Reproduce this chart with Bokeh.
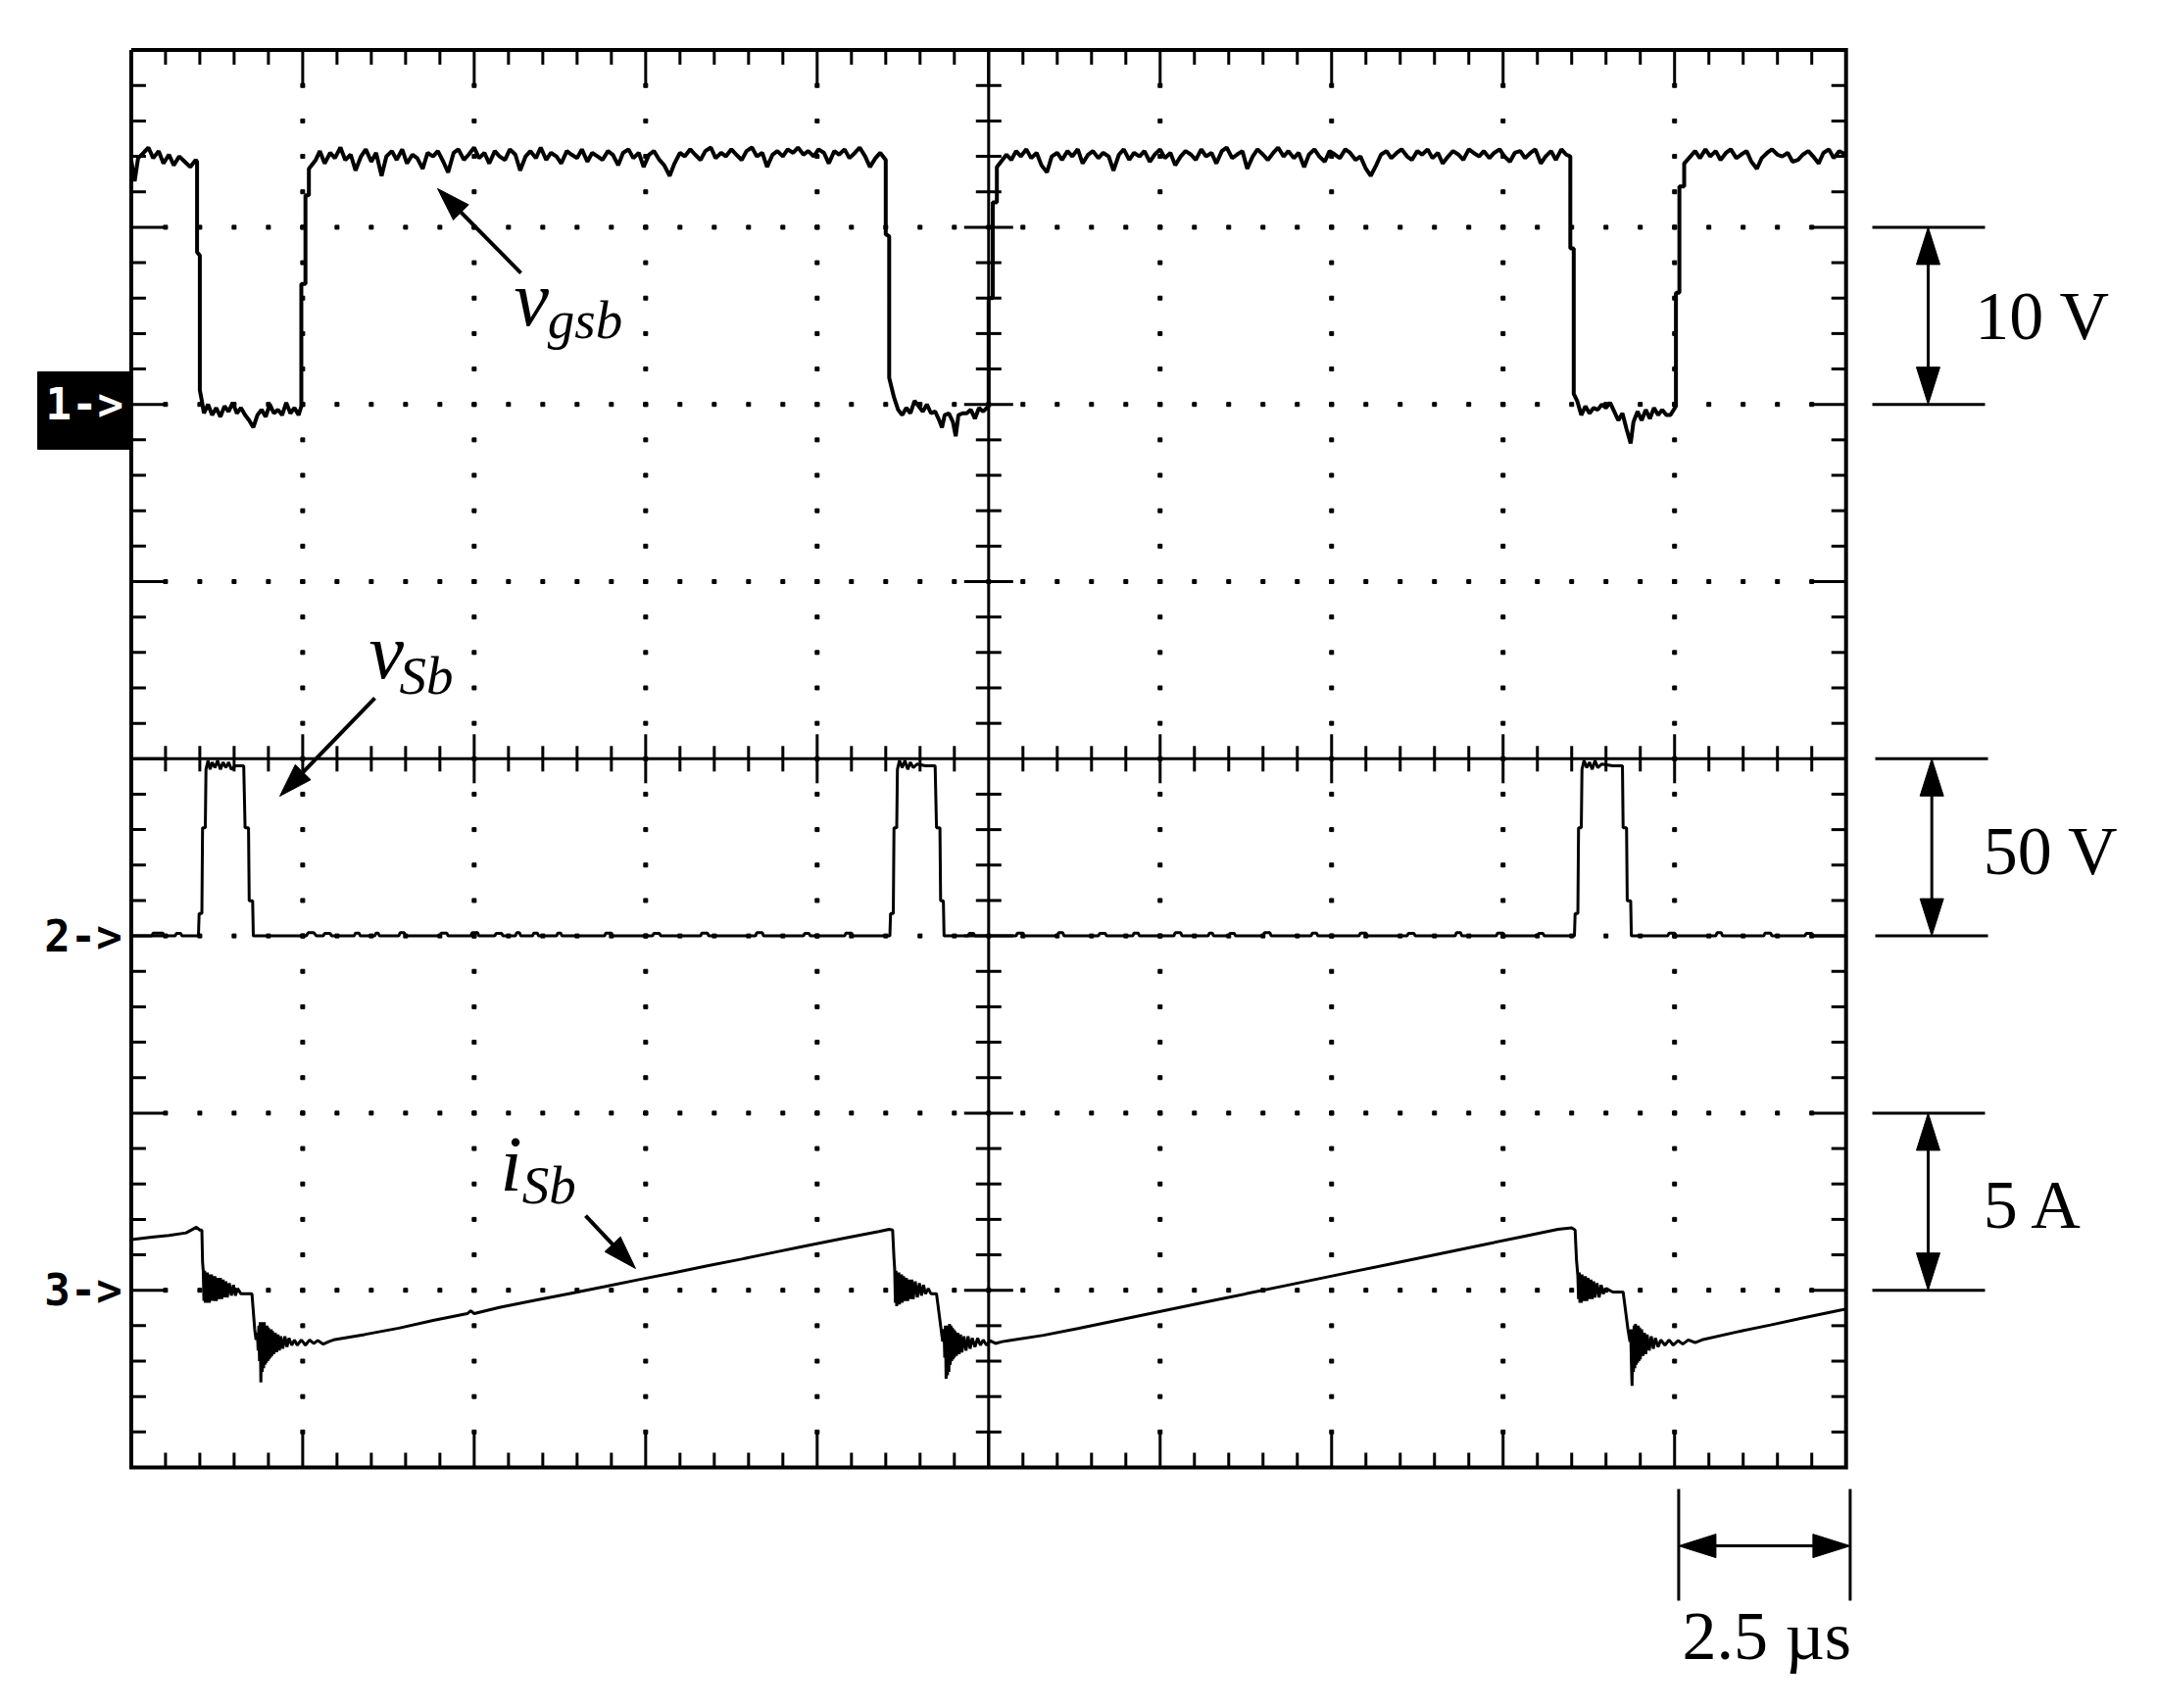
import math
import numpy as np
from bokeh.plotting import figure
from bokeh.core.properties import value
from bokeh.embed import file_html
from bokeh.resources import INLINE

# ---------------- scope settings ----------------
US_PER_DIV = 2.5          # time base, µs/div
N_XDIV, N_YDIV, N_SUB = 10, 8, 5
CH1_REF, CH1_VPD = 2.0, 10.0    # v_gsb : marker 1->, 10 V/div
CH2_REF, CH2_VPD = -1.0, 50.0   # v_Sb  : marker 2->, 50 V/div
CH3_REF, CH3_APD = -3.0, 5.0    # i_Sb  : marker 3->, 5 A/div

# ---------------- channel 1 : v_gsb (µs, V) ----------------
VGSB = [
    (0.00, 13.8), (0.05, 12.6), (0.10, 13.9), (0.18, 14.2), (0.25, 14.5), (0.32, 13.9), (0.40, 14.3),
    (0.47, 13.6), (0.55, 14.1), (0.62, 13.5), (0.70, 14.0), (0.78, 13.7), (0.86, 13.4), (0.94, 13.8),
    (0.96, 13.7), (0.96, 8.6), (1.00, 8.4), (1.00, 0.8), (1.03, 0.2),
    (1.06, -0.5), (1.12, 0.0), (1.18, -0.6), (1.24, -0.2), (1.30, -0.7), (1.36, -0.1), (1.42, -0.4),
    (1.48, 0.1), (1.54, -0.5), (1.60, -0.2), (1.66, -0.6), (1.72, -0.9), (1.78, -1.3), (1.84, -0.6),
    (1.90, -0.3), (1.96, -0.7), (2.02, 0.0), (2.08, -0.5), (2.14, -0.3), (2.20, -0.6), (2.26, 0.1),
    (2.32, -0.5), (2.38, -0.2), (2.44, -0.6), (2.48, -0.1),
    (2.48, 6.8), (2.54, 6.8), (2.54, 11.8), (2.59, 11.8), (2.59, 13.3), (2.69, 13.8),
    (2.75, 14.3), (2.82, 13.6), (2.90, 14.2), (2.97, 13.9), (3.05, 14.5), (3.12, 13.8), (3.20, 14.1),
    (3.27, 13.2), (3.35, 14.0), (3.42, 14.4), (3.50, 13.7), (3.57, 14.2), (3.65, 12.9), (3.72, 14.0),
    (3.80, 14.3), (3.87, 13.8), (3.95, 14.4), (4.02, 13.6), (4.10, 14.1), (4.17, 13.9), (4.25, 13.3),
    (4.32, 14.2), (4.40, 14.0), (4.47, 14.3), (4.55, 13.7), (4.62, 13.1), (4.70, 14.2), (4.77, 14.4),
    (4.85, 13.8), (4.92, 14.1), (5.00, 14.5), (5.07, 13.9), (5.15, 14.2), (5.22, 13.6), (5.30, 14.3),
    (5.37, 14.0), (5.45, 13.8), (5.52, 14.4), (5.60, 14.1), (5.67, 13.2), (5.75, 14.0), (5.82, 14.3),
    (5.90, 13.9), (5.97, 14.5), (6.05, 13.8), (6.12, 14.2), (6.20, 14.0), (6.27, 13.6), (6.35, 14.3),
    (6.42, 14.1), (6.50, 13.9), (6.57, 14.4), (6.65, 13.7), (6.72, 14.2), (6.80, 14.0), (6.87, 13.8),
    (6.95, 14.3), (7.02, 14.1), (7.10, 13.5), (7.17, 14.2), (7.25, 14.4), (7.32, 13.9), (7.40, 14.2),
    (7.47, 13.4), (7.55, 14.1), (7.62, 14.3), (7.70, 13.8), (7.77, 13.5), (7.85, 12.9), (7.92, 13.6),
    (8.00, 14.2), (8.07, 14.0), (8.15, 14.4), (8.22, 14.1), (8.30, 13.8), (8.37, 14.3), (8.45, 14.5),
    (8.52, 13.9), (8.60, 14.2), (8.67, 14.0), (8.75, 14.4), (8.82, 14.1), (8.90, 13.8), (8.97, 14.3),
    (9.05, 14.5), (9.12, 14.0), (9.20, 14.2), (9.27, 13.4), (9.35, 14.1), (9.42, 14.3), (9.50, 14.0),
    (9.57, 14.4), (9.65, 14.2), (9.72, 14.5), (9.80, 14.1), (9.87, 14.3), (9.95, 14.0), (10.02, 14.4),
    (10.10, 14.2), (10.17, 13.6), (10.25, 14.3), (10.32, 14.1), (10.40, 14.4), (10.47, 13.9),
    (10.55, 14.2), (10.62, 14.5), (10.70, 14.0), (10.77, 13.4), (10.85, 13.9), (10.92, 14.2),
    (11.00, 13.8), (11.00, 9.6), (11.05, 9.5), (11.05, 1.5), (11.12, 0.4),
    (11.18, -0.3), (11.24, -0.6), (11.30, -0.2), (11.36, -0.5), (11.42, 0.2), (11.48, -0.1),
    (11.54, -0.4), (11.60, 0.0), (11.66, -0.5), (11.72, -0.4), (11.78, -0.9), (11.82, -1.3),
    (11.86, -0.6), (11.92, -0.5), (11.98, -1.0), (12.02, -1.8), (12.06, -0.6), (12.12, -0.5),
    (12.18, -0.5), (12.24, -0.3), (12.30, -0.8), (12.36, -0.2), (12.42, -0.4), (12.50, -0.1),
    (12.50, 6.0), (12.56, 6.0), (12.56, 11.4), (12.62, 11.4), (12.62, 13.4), (12.76, 14.1),
    (12.83, 13.8), (12.90, 14.3), (12.97, 14.0), (13.05, 14.4), (13.12, 13.9), (13.20, 14.2),
    (13.27, 13.5), (13.35, 13.1), (13.42, 14.0), (13.50, 14.2), (13.57, 13.8), (13.65, 14.3),
    (13.72, 14.0), (13.80, 14.4), (13.87, 13.6), (13.95, 14.1), (14.02, 14.3), (14.10, 13.9),
    (14.17, 14.2), (14.25, 14.0), (14.32, 13.2), (14.40, 14.1), (14.47, 14.4), (14.55, 13.8),
    (14.62, 14.2), (14.70, 14.0), (14.77, 14.3), (14.85, 13.7), (14.92, 14.1), (15.00, 14.4),
    (15.07, 13.9), (15.15, 14.2), (15.22, 13.5), (15.30, 14.0), (15.37, 14.3), (15.45, 14.1),
    (15.52, 13.8), (15.60, 14.4), (15.67, 14.0), (15.75, 14.2), (15.82, 13.6), (15.90, 14.3),
    (15.97, 14.5), (16.05, 13.9), (16.12, 14.1), (16.20, 14.3), (16.27, 13.3), (16.35, 14.0),
    (16.42, 14.4), (16.50, 14.1), (16.57, 13.8), (16.65, 14.2), (16.72, 14.5), (16.80, 14.0),
    (16.87, 14.3), (16.95, 13.9), (17.02, 14.2), (17.10, 13.4), (17.17, 14.1), (17.25, 14.4),
    (17.32, 14.0), (17.40, 13.7), (17.47, 14.3), (17.55, 14.1), (17.62, 13.9), (17.70, 14.4),
    (17.77, 14.2), (17.85, 13.8), (17.92, 14.0), (18.00, 13.3), (18.07, 12.9), (18.15, 13.5),
    (18.22, 14.1), (18.30, 14.3), (18.37, 13.9), (18.45, 14.2), (18.52, 14.4), (18.60, 14.0),
    (18.67, 13.8), (18.75, 14.3), (18.82, 14.1), (18.90, 14.4), (18.97, 13.9), (19.05, 14.2),
    (19.12, 13.6), (19.20, 14.0), (19.27, 14.3), (19.35, 14.1), (19.42, 13.8), (19.50, 14.4),
    (19.57, 14.2), (19.65, 14.0), (19.72, 14.3), (19.80, 13.9), (19.87, 14.2), (19.95, 14.4),
    (20.02, 14.0), (20.10, 13.7), (20.17, 14.2), (20.25, 14.3), (20.32, 13.9), (20.40, 14.2),
    (20.47, 14.4), (20.55, 13.6), (20.62, 14.0), (20.70, 14.3), (20.77, 13.8), (20.85, 14.4),
    (20.92, 14.1), (20.98, 14.0),
    (20.98, 8.8), (21.03, 8.8), (21.03, 0.6), (21.08, 0.2),
    (21.14, -0.6), (21.20, -0.1), (21.26, -0.5), (21.32, -0.2), (21.38, -0.3), (21.44, 0.0),
    (21.50, -0.2), (21.56, 0.1), (21.62, -0.4), (21.68, -0.9), (21.74, -0.5), (21.80, -1.4),
    (21.86, -2.2), (21.90, -1.0), (21.96, -0.4), (22.02, -0.9), (22.08, -0.3), (22.14, -0.8),
    (22.20, -0.2), (22.26, -0.6), (22.32, -0.3), (22.38, -0.6), (22.44, -0.6), (22.52, -0.1),
    (22.52, 6.3), (22.57, 6.3), (22.57, 12.3), (22.64, 12.3), (22.64, 13.6), (22.80, 14.3),
    (22.87, 13.9), (22.95, 14.4), (23.02, 14.0), (23.10, 14.3), (23.17, 13.8), (23.25, 14.2),
    (23.32, 14.4), (23.40, 13.9), (23.47, 14.1), (23.55, 14.3), (23.62, 13.7), (23.70, 13.3),
    (23.77, 13.9), (23.85, 14.2), (23.92, 14.4), (24.00, 14.1), (24.07, 14.0), (24.15, 14.2),
    (24.22, 13.7), (24.30, 13.8), (24.37, 14.1), (24.45, 14.3), (24.52, 14.0), (24.60, 13.6),
    (24.67, 14.2), (24.75, 14.4), (24.82, 13.9), (24.90, 14.3), (25.00, 14.1),
]

# ---------------- channel 2 : v_Sb (µs, V) ----------------
VSB = [
    (0.00, 0.0), (0.30, 0.0), (0.32, 0.8), (0.46, 0.8), (0.48, 0.0), (0.64, 0.0), (0.66, 0.7),
    (0.72, 0.7), (0.74, 0.0), (0.98, 0.0),
    (0.99, 6.3), (1.03, 6.3), (1.04, 30.5), (1.08, 30.5), (1.09, 47.0), (1.12, 49.5), (1.15, 47.0),
    (1.18, 49.0), (1.22, 47.5), (1.26, 49.5), (1.30, 47.0), (1.34, 49.0), (1.38, 47.5), (1.42, 49.0),
    (1.46, 47.0), (1.52, 48.0), (1.64, 48.0),
    (1.66, 30.5), (1.71, 30.5), (1.72, 9.9), (1.77, 9.9), (1.78, 0.0),
    (2.55, 0.0), (2.58, 0.9), (2.66, 0.9), (2.70, 0.0), (2.80, 0.0), (2.82, 0.7), (2.90, 0.7),
    (2.92, 0.0), (3.25, 0.0), (3.27, 0.8), (3.32, 0.8), (3.34, 0.0), (3.55, 0.0), (3.57, 0.8),
    (3.60, 0.8), (3.62, 0.0), (3.90, 0.0), (3.92, 0.9), (3.98, 0.9), (4.00, 0.0), (4.50, 0.0),
    (4.52, 0.8), (4.60, 0.8), (4.62, 0.0), (4.95, 0.0), (4.97, 0.9), (5.05, 0.9), (5.07, 0.0),
    (5.30, 0.0), (5.32, 0.7), (5.40, 0.7), (5.42, 0.0), (5.60, 0.0), (5.62, 0.9), (5.66, 0.9),
    (5.68, 0.0), (5.85, 0.0), (5.87, 0.8), (5.92, 0.8), (5.94, 0.0), (6.20, 0.0), (6.22, 0.8),
    (6.26, 0.8), (6.28, 0.0), (6.90, 0.0), (6.92, 0.8), (7.00, 0.8), (7.02, 0.0), (7.60, 0.0),
    (7.62, 0.7), (7.70, 0.7), (7.72, 0.0), (8.30, 0.0), (8.32, 0.8), (8.40, 0.8), (8.42, 0.0),
    (9.10, 0.0), (9.12, 0.9), (9.20, 0.9), (9.22, 0.0), (9.80, 0.0), (9.82, 0.7), (9.88, 0.7),
    (9.90, 0.0), (10.40, 0.0), (10.42, 0.8), (10.50, 0.8), (10.52, 0.0), (11.06, 0.0),
    (11.07, 6.3), (11.11, 6.3), (11.12, 30.5), (11.16, 30.5), (11.17, 47.0), (11.20, 49.5),
    (11.24, 47.5), (11.28, 49.5), (11.32, 47.0), (11.36, 49.0), (11.40, 47.5), (11.46, 48.5),
    (11.58, 48.0), (11.72, 48.0),
    (11.74, 30.5), (11.79, 30.5), (11.80, 9.9), (11.84, 9.9), (11.85, 0.0),
    (12.20, 0.0), (12.22, 0.7), (12.28, 0.7), (12.30, 0.0), (12.90, 0.0), (12.92, 0.8), (13.00, 0.8),
    (13.02, 0.0), (13.50, 0.0), (13.52, 0.9), (13.58, 0.9), (13.60, 0.0), (14.10, 0.0), (14.12, 0.7),
    (14.20, 0.7), (14.22, 0.0), (14.60, 0.0), (14.62, 0.8), (14.68, 0.8), (14.70, 0.0), (15.20, 0.0),
    (15.22, 0.9), (15.30, 0.9), (15.32, 0.0), (15.70, 0.0), (15.72, 0.8), (15.76, 0.8), (15.78, 0.0),
    (16.00, 0.0), (16.02, 0.7), (16.08, 0.7), (16.10, 0.0), (16.50, 0.0), (16.52, 0.9), (16.60, 0.9),
    (16.62, 0.0), (17.20, 0.0), (17.22, 0.8), (17.28, 0.8), (17.30, 0.0), (17.90, 0.0), (17.92, 0.8),
    (18.00, 0.8), (18.02, 0.0), (18.60, 0.0), (18.62, 0.7), (18.70, 0.7), (18.72, 0.0), (19.30, 0.0),
    (19.32, 0.9), (19.38, 0.9), (19.40, 0.0), (19.90, 0.0), (19.92, 0.8), (20.00, 0.8), (20.02, 0.0),
    (20.50, 0.0), (20.52, 0.7), (20.58, 0.7), (20.60, 0.0), (21.04, 0.0),
    (21.05, 6.3), (21.09, 6.3), (21.10, 30.5), (21.14, 30.5), (21.15, 47.0), (21.18, 49.5),
    (21.22, 47.5), (21.26, 49.0), (21.30, 47.0), (21.34, 49.5), (21.38, 47.5), (21.44, 48.5),
    (21.60, 48.0), (21.74, 48.0),
    (21.75, 30.5), (21.80, 30.5), (21.81, 9.9), (21.86, 9.9), (21.87, 0.0),
    (22.40, 0.0), (22.42, 0.8), (22.50, 0.8), (22.52, 0.0), (23.10, 0.0), (23.12, 0.9), (23.18, 0.9),
    (23.20, 0.0), (23.80, 0.0), (23.82, 0.8), (23.90, 0.8), (23.92, 0.0), (24.40, 0.0), (24.42, 0.7),
    (24.50, 0.7), (24.52, 0.0), (25.00, 0.0),
]

# ---------------- channel 3 : i_Sb (µs, A) ----------------
ISB = [
    (0.00, 1.43), (0.30, 1.50), (0.55, 1.55), (0.80, 1.62), (0.95, 1.78), (1.00, 1.70), (1.03, 1.70),
    (1.04, 0.80), (1.05, 0.55), (1.06, -0.30), (1.07, 0.55), (1.08, -0.35), (1.09, 0.50), (1.10, -0.35),
    (1.11, 0.50), (1.12, -0.35), (1.13, 0.45), (1.14, -0.35), (1.15, 0.45), (1.16, -0.30), (1.17, 0.45),
    (1.18, -0.30), (1.19, 0.40), (1.20, -0.30), (1.22, 0.40), (1.24, -0.30), (1.26, 0.35), (1.28, -0.25),
    (1.30, 0.35), (1.32, -0.25), (1.34, 0.30), (1.36, -0.20), (1.38, 0.25), (1.40, -0.20), (1.43, 0.20),
    (1.46, -0.15), (1.49, 0.15), (1.52, -0.15), (1.55, 0.05), (1.60, -0.10), (1.76, -0.10),
    (1.78, -0.60), (1.80, -1.10), (1.82, -1.40), (1.84, -1.20), (1.85, -1.70), (1.86, -1.00),
    (1.87, -2.00), (1.88, -0.90), (1.89, -2.60), (1.90, -1.00), (1.91, -2.30), (1.92, -0.90),
    (1.93, -2.20), (1.94, -0.90), (1.95, -2.10), (1.96, -1.00), (1.97, -2.05), (1.98, -1.00),
    (1.99, -2.00), (2.00, -1.05), (2.01, -1.95), (2.02, -1.10), (2.03, -1.90), (2.04, -1.10),
    (2.05, -1.85), (2.06, -1.15), (2.08, -1.80), (2.10, -1.20), (2.12, -1.75), (2.14, -1.25),
    (2.16, -1.70), (2.18, -1.30), (2.21, -1.65), (2.24, -1.30), (2.27, -1.60), (2.30, -1.35),
    (2.34, -1.55), (2.38, -1.40), (2.42, -1.55), (2.48, -1.40), (2.54, -1.55), (2.60, -1.40),
    (2.66, -1.50), (2.72, -1.42), (2.80, -1.52), (2.88, -1.45), (2.95, -1.40),
    (3.40, -1.25), (3.90, -1.07), (4.40, -0.85), (4.90, -0.66), (4.95, -0.58), (5.00, -0.66),
    (5.40, -0.47), (5.90, -0.28), (6.40, -0.09), (6.90, 0.10), (7.40, 0.30), (7.90, 0.49), (8.40, 0.69),
    (8.90, 0.88), (9.40, 1.08), (9.90, 1.28), (10.40, 1.47), (10.90, 1.66), (11.05, 1.72), (11.10, 1.70),
    (11.12, 0.90), (11.13, 0.60), (11.14, -0.35), (11.15, 0.55), (11.16, -0.45), (11.17, 0.50),
    (11.18, -0.40), (11.19, 0.50), (11.20, -0.40), (11.21, 0.45), (11.22, -0.35), (11.23, 0.45),
    (11.24, -0.35), (11.26, 0.40), (11.28, -0.30), (11.30, 0.35), (11.32, -0.30), (11.34, 0.30),
    (11.36, -0.25), (11.38, 0.30), (11.40, -0.25), (11.43, 0.25), (11.46, -0.20), (11.49, 0.20),
    (11.52, -0.15), (11.55, 0.15), (11.58, -0.10), (11.62, 0.05), (11.66, -0.10), (11.74, -0.10),
    (11.76, -0.40), (11.80, -1.00), (11.83, -1.45), (11.85, -1.10), (11.86, -1.90), (11.87, -1.00),
    (11.88, -2.50), (11.89, -1.10), (11.90, -2.40), (11.91, -1.00), (11.92, -2.30), (11.93, -0.95),
    (11.94, -2.10), (11.95, -1.00), (11.96, -2.00), (11.97, -1.05), (11.98, -1.95), (11.99, -1.10),
    (12.00, -1.90), (12.01, -1.15), (12.03, -1.85), (12.05, -1.20), (12.07, -1.80), (12.09, -1.25),
    (12.11, -1.75), (12.14, -1.30), (12.17, -1.70), (12.20, -1.30), (12.23, -1.65), (12.26, -1.35),
    (12.30, -1.60), (12.34, -1.35), (12.38, -1.55), (12.42, -1.40), (12.47, -1.55), (12.52, -1.42),
    (12.60, -1.50), (12.70, -1.45), (12.80, -1.42),
    (13.30, -1.27), (13.80, -1.08), (14.30, -0.88), (14.80, -0.68), (15.30, -0.48), (15.80, -0.28),
    (16.30, -0.08), (16.80, 0.12), (17.30, 0.32), (17.80, 0.52), (18.30, 0.72), (18.80, 0.92),
    (19.30, 1.12), (19.80, 1.32), (20.30, 1.52), (20.80, 1.72), (21.00, 1.76), (21.05, 1.70),
    (21.07, 0.85), (21.09, 0.40), (21.10, -0.25), (21.11, 0.50), (21.12, -0.35), (21.13, 0.45),
    (21.14, -0.35), (21.15, 0.45), (21.16, -0.30), (21.17, 0.40), (21.18, -0.30), (21.20, 0.40),
    (21.22, -0.30), (21.24, 0.35), (21.26, -0.25), (21.28, 0.30), (21.30, -0.25), (21.32, 0.25),
    (21.34, -0.20), (21.37, 0.20), (21.40, -0.20), (21.43, 0.15), (21.46, -0.10), (21.50, 0.05),
    (21.60, -0.05), (21.75, -0.05), (21.78, -0.50), (21.82, -1.10), (21.85, -1.45), (21.86, -1.10),
    (21.87, -2.00), (21.88, -2.70), (21.89, -1.10), (21.90, -2.30), (21.91, -1.00), (21.92, -2.20),
    (21.93, -0.95), (21.94, -2.10), (21.95, -1.00), (21.96, -2.05), (21.97, -1.00), (21.98, -2.00),
    (21.99, -1.05), (22.00, -1.95), (22.02, -1.10), (22.04, -1.85), (22.06, -1.20), (22.08, -1.80),
    (22.10, -1.25), (22.13, -1.70), (22.16, -1.30), (22.19, -1.65), (22.22, -1.35), (22.26, -1.60),
    (22.30, -1.40), (22.36, -1.55), (22.42, -1.40), (22.48, -1.55), (22.55, -1.42), (22.62, -1.52),
    (22.70, -1.40), (22.80, -1.48), (22.90, -1.40),
    (23.40, -1.18), (23.90, -0.98), (24.40, -0.77), (24.90, -0.57), (25.00, -0.53),
]

t_vgsb = np.array([a for a, b in VGSB]); v_vgsb = np.array([b for a, b in VGSB])
t_vsb = np.array([a for a, b in VSB]); v_vsb = np.array([b for a, b in VSB])
t_isb = np.array([a for a, b in ISB]); i_isb = np.array([b for a, b in ISB])

# ---------------- page geometry ----------------
W, H = 2196, 1738
PX_X = 174.98 / US_PER_DIV      # screen px per µs
PX_Y = 180.8                    # screen px per division
FRAME_L, FRAME_T = 133.4, 50.6  # graticule offset inside the canvas
T_END = N_XDIV * US_PER_DIV
Y_TOP = N_YDIV / 2

x_lo = -FRAME_L / PX_X
x_hi = x_lo + W / PX_X
y_hi = Y_TOP + FRAME_T / PX_Y
y_lo = y_hi - H / PX_Y

p = figure(frame_width=W, frame_height=H, x_range=(x_lo, x_hi), y_range=(y_lo, y_hi),
           min_border=0, toolbar_location=None, output_backend="svg",
           x_axis_location=None, y_axis_location=None)
p.xgrid.visible = False
p.ygrid.visible = False
p.outline_line_color = None
p.background_fill_color = "white"
p.border_fill_color = "white"

K = "black"

# ---------------- graticule ----------------
xsub = np.arange(1, N_XDIV * N_SUB) / N_SUB            # 0.2 .. 9.8 div
ysub = np.arange(1, N_YDIV * N_SUB) / N_SUB - Y_TOP    # -3.8 .. 3.8 div
xmaj = np.isclose(xsub, np.round(xsub))
ymaj = np.isclose(ysub, np.round(ysub))
xt = xsub * US_PER_DIV

# dotted grid
dx, dy = [], []
for d in range(1, N_XDIV):
    if d == N_XDIV // 2:
        continue
    dx += [d * US_PER_DIV] * len(ysub)
    dy += list(ysub)
for m in range(-N_YDIV // 2 + 1, N_YDIV // 2):
    if m == 0:
        continue
    dx += list(xt)
    dy += [m] * len(xt)
p.scatter(dx, dy, marker="square", size=4, color=K)

# edge ticks (inward)
EL_MAJ, EL_MIN = 37, 15
lx = np.where(xmaj, EL_MAJ, EL_MIN) / PX_Y
ly = np.where(ymaj, EL_MAJ, EL_MIN) / PX_X
p.segment(x0=xt, y0=np.full_like(xt, Y_TOP), x1=xt, y1=Y_TOP - lx, line_width=3, color=K)
p.segment(x0=xt, y0=np.full_like(xt, -Y_TOP), x1=xt, y1=-Y_TOP + lx, line_width=3, color=K)
p.segment(x0=np.zeros_like(ysub), y0=ysub, x1=ly, y1=ysub, line_width=3, color=K)
p.segment(x0=np.full_like(ysub, T_END), y0=ysub, x1=T_END - ly, y1=ysub, line_width=3, color=K)

# centre cross ticks
CL_MAJ, CL_MIN = 25, 13
cx = np.where(xmaj, CL_MAJ, CL_MIN) / PX_Y
cy = np.where(ymaj, CL_MAJ, CL_MIN) / PX_X
keepx = ~np.isclose(xsub, N_XDIV / 2)
keepy = ~np.isclose(ysub, 0)
p.segment(x0=xt[keepx], y0=-cx[keepx], x1=xt[keepx], y1=cx[keepx], line_width=3, color=K)
p.segment(x0=T_END / 2 - cy[keepy], y0=ysub[keepy], x1=T_END / 2 + cy[keepy], y1=ysub[keepy],
          line_width=3, color=K)

# centre cross and frame
p.segment(x0=[0, T_END / 2], y0=[0, -Y_TOP], x1=[T_END, T_END / 2], y1=[0, Y_TOP], line_width=3, color=K)
p.line([0, T_END, T_END, 0, 0], [Y_TOP, Y_TOP, -Y_TOP, -Y_TOP, Y_TOP], line_width=4, color=K,
       line_join="miter")

# ---------------- traces ----------------
p.line(t_vgsb, CH1_REF + v_vgsb / CH1_VPD, line_width=4, color=K)
p.line(t_vsb, CH2_REF + v_vsb / CH2_VPD, line_width=3, color=K)
p.line(t_isb, CH3_REF + i_isb / CH3_APD, line_width=3, color=K)

# ---------------- channel markers ----------------
MONO = value("DejaVu Sans Mono")
p.quad(left=[-1.363], right=[0], top=[2.184], bottom=[1.747], color=K)
p.text(x=[-0.68], y=[CH1_REF], text=["1->"], text_color="white", text_font=MONO,
       text_font_size="44px", text_font_style="bold", text_align="center", text_baseline="middle")
p.text(x=[-0.70, -0.70], y=[CH2_REF, CH3_REF], text=["2->", "3->"], text_color=K, text_font=MONO,
       text_font_size="44px", text_font_style="bold", text_align="center", text_baseline="middle")

# ---------------- arrows ----------------
heads_x, heads_y = [], []


def head(xa, ya, xb, yb, hl, hw):
    ddx = (xb - xa) * PX_X
    ddy = (yb - ya) * PX_Y
    n = math.hypot(ddx, ddy)
    ux, uy = ddx / n, ddy / n
    bx = xb - hl * ux / PX_X
    by = yb - hl * uy / PX_Y
    c1 = (bx - uy * hw / 2 / PX_X, by + ux * hw / 2 / PX_Y)
    c2 = (bx + uy * hw / 2 / PX_X, by - ux * hw / 2 / PX_Y)
    heads_x.append([xb, c1[0], c2[0]])
    heads_y.append([yb, c1[1], c2[1]])
    return bx, by


def arrow(xa, ya, xb, yb, hl, hw, lw, both=False):
    ex, ey = head(xa, ya, xb, yb, hl, hw)
    sx, sy = (head(xb, yb, xa, ya, hl, hw) if both else (xa, ya))
    p.line([sx, ex], [sy, ey], line_width=lw, color=K)


SERIF = value("Liberation Serif")

# trace labels
arrow(5.681, 2.742, 4.466, 3.218, 34, 22, 4)
p.text(x=[5.58], y=[2.594], text=["v"], text_font=SERIF, text_font_style="italic",
       text_font_size="80px", text_baseline="alphabetic")
p.text(x=[6.07], y=[2.477], text=["gsb"], text_font=SERIF, text_font_style="italic",
       text_font_size="55px", text_baseline="alphabetic")

arrow(3.552, 0.342, 2.166, -0.211, 34, 22, 4)
p.text(x=[3.466], y=[0.606], text=["v"], text_font=SERIF, text_font_style="italic",
       text_font_size="80px", text_baseline="alphabetic")
p.text(x=[3.909], y=[0.47], text=["Sb"], text_font=SERIF, text_font_style="italic",
       text_font_size="55px", text_baseline="alphabetic")

arrow(6.624, -2.579, 7.352, -2.877, 34, 22, 4)
p.text(x=[5.381], y=[-2.29], text=["i"], text_font=SERIF, text_font_style="italic",
       text_font_size="80px", text_baseline="alphabetic")
p.text(x=[5.70], y=[-2.406], text=["Sb"], text_font=SERIF, text_font_style="italic",
       text_font_size="55px", text_baseline="alphabetic")

# vertical scale bars (one division each)
BARS = [  # (x_left, x_right, x_arrow, y_low, y_high, label, x_label, y_label)
    (25.383, 27.026, 26.197, CH1_REF, CH1_REF + 1, "10 V", 26.88, 2.50),
    (25.426, 27.069, 26.25, CH2_REF, CH2_REF + 1, "50 V", 27.0, -0.52),
    (25.383, 27.026, 26.197, CH3_REF, CH3_REF + 1, "5 A", 27.0, -2.52),
]
for xl, xr, xa, yl, yh, lab, tx, ty in BARS:
    p.segment(x0=[xl, xl], y0=[yl, yh], x1=[xr, xr], y1=[yl, yh], line_width=3, color=K)
    arrow(xa, yl, xa, yh, 38, 24, 3, both=True)
    p.text(x=[tx], y=[ty], text=[lab], text_font=SERIF, text_font_size="70px",
           text_baseline="alphabetic")

# time scale bar
p.segment(x0=[22.56, 25.06], y0=[-4.122, -4.122], x1=[22.56, 25.06], y1=[-4.752, -4.752],
          line_width=3, color=K)
arrow(22.56, -4.443, 25.06, -4.443, 38, 24, 3, both=True)
p.text(x=[22.61], y=[-4.95], text=["2.5 µs"], text_font=SERIF, text_font_size="70px",
       text_baseline="alphabetic")

p.patches(heads_x, heads_y, color=K, line_width=1)

open("out.html", "w").write(file_html(p, INLINE))
